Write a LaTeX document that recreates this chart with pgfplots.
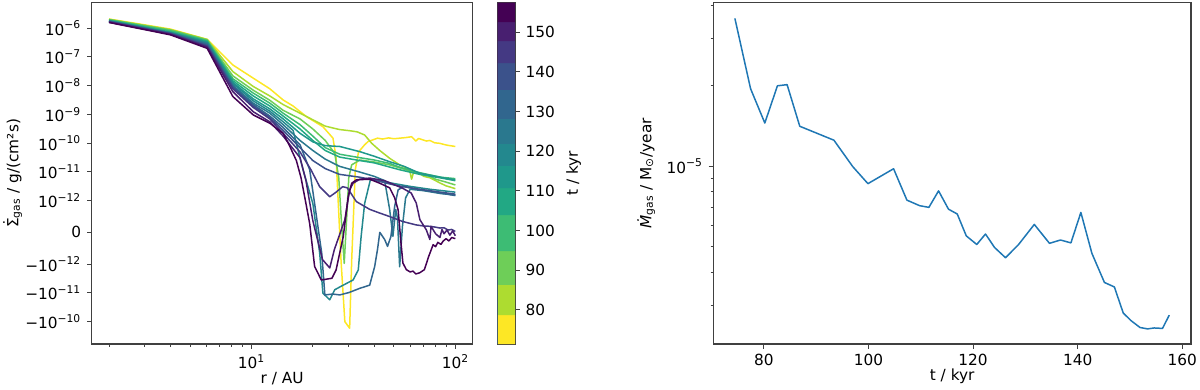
\documentclass[border=0pt]{standalone}
\usepackage{fontspec}
\setmainfont{DejaVu Sans}
\usepackage{pgfplots}
\pgfplotsset{compat=1.18}

% viridis bins, yellow (early) to purple (late)
\definecolor{c0}{HTML}{FDE725}
\definecolor{c1}{HTML}{ADDC30}
\definecolor{c2}{HTML}{6ECE58}
\definecolor{c3}{HTML}{3DBC74}
\definecolor{c4}{HTML}{22A884}
\definecolor{c5}{HTML}{1F988B}
\definecolor{c6}{HTML}{23888E}
\definecolor{c7}{HTML}{2A788E}
\definecolor{c8}{HTML}{31668E}
\definecolor{c9}{HTML}{3B528B}
\definecolor{c10}{HTML}{443983}
\definecolor{c11}{HTML}{481F70}
\definecolor{c12}{HTML}{440154}
\definecolor{mplblue}{HTML}{1F77B4}

\newcommand{\tp}[1]{10\textsuperscript{#1}}
% dot accent placed by hand (combining dot is lost on capital sigma)
\newcommand{\dotover}[1]{\setbox0\hbox{#1}\makebox[0pt][l]{\makebox[\wd0][c]{\raisebox{0.22em}{˙}}}#1}

\pgfplotsset{
  mpl/.style={
    scale only axis,
    axis line style={line width=0.7pt, black!75},
    tick style={black!75, line width=0.6pt},
    tick align=outside,
    major tick length=2.8pt,
    minor tick length=1.6pt,
    xtick pos=bottom, ytick pos=left,
    /pgf/number format/assume math mode=true,
    tick label style={font=\fontsize{9.2}{11}\selectfont},
    label style={font=\fontsize{9.2}{11}\selectfont},
    xlabel style={yshift=5pt},
  },
  ln/.style={line width=0.9pt, line join=round},
}

\begin{document}
\begin{tikzpicture}[font=\fontsize{9.2}{11}\selectfont]
\useasboundingbox (-55pt,-27pt) rectangle (665pt,206.4pt);

% ---------------- left: symlog profiles (linthresh 1e-12) ----------------
\begin{axis}[mpl, at={(0pt,0pt)}, anchor=south west,
    width=228.6pt, height=204.8pt,
    xmode=log, xmin=1.644, xmax=121.6,
    ymin=-3.89, ymax=8.0,
    xtick={10,100}, xticklabels={\tp{1},\tp{2}},
    minor xtick={2,3,4,5,6,7,8,9,20,30,40,50,60,70,80,90},
    ytick={7.111,6.111,5.111,4.111,3.111,2.111,1.111,0,-1.111,-2.111,-3.111},
    yticklabels={\tp{−6},\tp{−7},\tp{−8},\tp{−9},\tp{−10},\tp{−11},\tp{−12},0,−\tp{−12},−\tp{−11},−\tp{−10}},
    xlabel={r / AU},
    ylabel={\dotover{Σ}\textsubscript{gas} / g/(cm²s)},
    ylabel shift=-5pt,
]
\addplot[ln, c0] coordinates {(2,7.43) (4,7.08) (6.06,6.72) (8.1,5.83) (10.2,5.37) (12.3,5.0) (14.3,4.61) (16,4.40) (18.6,4.03) (22.4,3.68) (25.1,3.28) (26.0,2.6) (26.6,1.13) (27.5,-1.0) (28.7,-3.11) (30.3,-3.34) (31.0,-1.0) (32.3,2.18) (33.5,2.8) (35.9,3.05) (37.3,3.16) (41.5,3.28) (44,3.25) (47,3.29) (50,3.26) (53.3,3.28) (57,3.30) (61,3.33) (64,3.18) (66,3.27) (68,3.24) (72,3.18) (75,3.20) (79,3.12) (84,3.10) (88,3.06) (92,3.03) (96,3.01) (100,2.99)};
\addplot[ln, c1] coordinates {(2,7.42) (4,7.06) (6.06,6.72) (8.1,5.60) (10.2,5.08) (12.3,4.75) (14.3,4.45) (17.3,4.15) (20,3.92) (23,3.70) (25.6,3.62) (27.1,3.58) (30.3,3.54) (33,3.50) (35.9,3.39) (38.9,3.10) (42.6,2.85) (47.6,2.58) (53.3,2.35) (57,2.25) (59.7,2.15) (61,1.85) (62.5,2.12) (66.8,2.05) (70,1.95) (75,1.90) (80,1.80) (84,1.72) (90,1.62) (95,1.57) (100,1.52)};
\addplot[ln, c2] coordinates {(2,7.41) (4,7.05) (6.06,6.70) (8.1,5.45) (10.2,4.95) (12.3,4.6) (14.3,4.25) (17.3,3.95) (20,3.60) (23,3.20) (25.6,2.75) (26.8,1.9) (27.6,0.4) (28.5,-1.08) (29.2,0.3) (30,1.9) (31,2.35) (34,2.52) (40,2.45) (47.6,2.35) (56,2.20) (62,2.10) (67,2.05) (75,1.95) (80,1.85) (90,1.75) (100,1.65)};
\addplot[ln, c3] coordinates {(2,7.40) (4,7.02) (6.06,6.68) (8.1,5.35) (10.2,4.85) (12.3,4.5) (14.3,4.15) (17.3,3.75) (20,3.35) (23,2.95) (27.1,2.72) (34,2.60) (40,2.52) (47.6,2.40) (53.3,2.27) (63,2.12) (75,2.0) (85,1.92) (100,1.87)};
\addplot[ln, c4] coordinates {(2,7.38) (4,6.98) (6.06,6.65) (8.1,5.28) (10.2,4.75) (12.3,4.40) (14.3,4.05) (17.3,3.60) (20,3.20) (23,2.85) (27.1,2.62) (34,2.50) (40,2.42) (53.3,2.18) (66.8,2.02) (84,1.90) (100,1.80)};
\addplot[ln, c5] coordinates {(2,7.37) (4,6.95) (6.06,6.62) (8.1,5.22) (10.2,4.65) (12.3,4.30) (14.3,3.95) (17.3,3.45) (20,3.15) (23,3.02) (27.1,2.99) (34,2.81) (40,2.65) (47.6,2.46) (56,2.30) (66.8,2.06) (80,1.95) (90,1.88) (100,1.83)};
\addplot[ln, c6] coordinates {(2,7.36) (4,6.95) (6.06,6.60) (8.1,5.18) (10.2,4.58) (12.3,4.22) (14.3,3.85) (16,3.55) (17.9,2.18) (20,1.0) (21.6,-0.72) (22.4,-2.12) (24.2,-2.35) (25.6,-2.0) (28,-1.85) (31.5,-1.66) (33.4,-1.31) (34.5,-0.14) (35.9,1.01) (38.3,1.83) (42,1.80) (50,1.70) (60,1.60) (75,1.50) (100,1.40)};
\addplot[ln, c7] coordinates {(2,7.35) (4,6.95) (6.06,6.57) (8.1,5.12) (10.2,4.50) (12.3,4.15) (14.3,3.75) (17.3,3.20) (20,2.85) (23,2.55) (27,2.30) (34,2.10) (40,1.95) (45,1.80) (47.6,0.8) (49.4,-0.14) (51,0.8) (52,0.5) (53.3,-1.2) (55,0.2) (57,1.2) (60,1.5) (70,1.45) (85,1.35) (100,1.30)};
\addplot[ln, c8] coordinates {(2,7.35) (4,6.93) (6.06,6.54) (8.1,5.08) (10.2,4.45) (12.3,4.05) (14.3,3.65) (17.3,3.05) (19.3,2.18) (20.4,1.0) (22.1,-0.72) (22.9,-2.18) (25,-2.15) (27.1,-2.18) (30,-2.10) (34,-1.95) (38,-1.84) (40.2,-1.19) (41.5,-0.6) (42.6,0.0) (45,-0.25) (46.5,-0.49) (48.3,-0.14) (50.4,0.91) (52.4,1.48) (56,1.60) (65,1.50) (80,1.40) (100,1.28)};
\addplot[ln, c9] coordinates {(2,7.34) (4,6.92) (6.06,6.50) (8.1,5.05) (10.2,4.40) (12.3,4.00) (14.3,3.55) (17.3,2.95) (20,2.50) (23,2.22) (27,2.02) (34,1.92) (40,1.82) (50,1.65) (60,1.55) (75,1.45) (100,1.33)};
\addplot[ln, c10] coordinates {(2,7.33) (4,6.92) (6.06,6.48) (8.1,5.00) (10.2,4.35) (12.3,3.95) (14.3,3.45) (17.3,2.80) (19.5,2.2) (21.6,1.59) (24.2,1.24) (26,1.40) (28,1.59) (29.5,1.55) (32.7,1.07) (38,0.80) (42.6,0.67) (47.6,0.55) (55,0.38) (64,0.26) (70,0.22) (75,0.21) (80,0.18) (84,0.15) (88,0.16) (92,0.08) (96,0.10) (100,0.03)};
\addplot[ln, c11] coordinates {(2,7.32) (4,6.90) (6.06,6.45) (8.1,4.90) (10.2,4.20) (12.3,3.85) (14.3,3.35) (17.3,2.60) (18.5,1.8) (20,0.4) (22.3,-0.95) (24.2,-1.24) (25.5,-0.6) (28.7,0.44) (30.3,1.48) (31.5,1.71) (34,1.85) (38,1.89) (45,1.80) (55,1.54) (60.7,1.37) (64.3,1.02) (67,0.44) (72,0.09) (75,-0.25) (76,0.21) (80,-0.05) (84,-0.18) (86,0.1) (88,-0.05) (91,0.08) (94,-0.1) (97,0.05) (100,-0.12)};
\addplot[ln, c12] coordinates {(2,7.31) (4,6.88) (6.06,6.41) (8.1,4.73) (10.2,4.09) (12.3,3.80) (14.3,3.45) (15.4,3.0) (16.6,2.5) (17.5,1.9) (18.5,1.0) (19.3,0.3) (20.4,-1.19) (22,-1.66) (24.8,-1.60) (26,-1.31) (28.2,-0.14) (29.8,1.24) (31,1.71) (32.7,1.83) (38,1.85) (42.6,1.71) (47.6,1.55) (50.4,1.2) (52.4,0.78) (54,-0.3) (55.3,-1.07) (57.5,-1.30) (60,-1.38) (62,-1.35) (64,-1.45) (66.8,-1.41) (70.5,-1.30) (74,-0.84) (77.8,-0.43) (80,-0.5) (82,-0.35) (85,-0.42) (87,-0.31) (90,-0.22) (93,-0.30) (96,-0.18) (100,-0.22)};
\end{axis}

% ---------------- colorbar ----------------
\begin{axis}[mpl, at={(243.6pt,0pt)}, anchor=south west,
    width=10.4pt, height=204.8pt,
    xmin=0, xmax=1, ymin=71.4, ymax=157.4,
    xtick=\empty,
    ytick={80,90,100,110,120,130,140,150},
    ytick pos=right, yticklabel pos=right,
    ylabel={t / kyr},
]
\addplot[fill=c0, draw=none] coordinates {(0,71.4) (1,71.4) (1,78.7) (0,78.7)} \closedcycle;
\addplot[fill=c1, draw=none] coordinates {(0,78.7) (1,78.7) (1,86.3) (0,86.3)} \closedcycle;
\addplot[fill=c2, draw=none] coordinates {(0,86.3) (1,86.3) (1,94.8) (0,94.8)} \closedcycle;
\addplot[fill=c3, draw=none] coordinates {(0,94.8) (1,94.8) (1,103.9) (0,103.9)} \closedcycle;
\addplot[fill=c4, draw=none] coordinates {(0,103.9) (1,103.9) (1,110.7) (0,110.7)} \closedcycle;
\addplot[fill=c5, draw=none] coordinates {(0,110.7) (1,110.7) (1,116.3) (0,116.3)} \closedcycle;
\addplot[fill=c6, draw=none] coordinates {(0,116.3) (1,116.3) (1,121.8) (0,121.8)} \closedcycle;
\addplot[fill=c7, draw=none] coordinates {(0,121.8) (1,121.8) (1,128.1) (0,128.1)} \closedcycle;
\addplot[fill=c8, draw=none] coordinates {(0,128.1) (1,128.1) (1,135.4) (0,135.4)} \closedcycle;
\addplot[fill=c9, draw=none] coordinates {(0,135.4) (1,135.4) (1,142.2) (0,142.2)} \closedcycle;
\addplot[fill=c10, draw=none] coordinates {(0,142.2) (1,142.2) (1,147.7) (0,147.7)} \closedcycle;
\addplot[fill=c11, draw=none] coordinates {(0,147.7) (1,147.7) (1,152.5) (0,152.5)} \closedcycle;
\addplot[fill=c12, draw=none] coordinates {(0,152.5) (1,152.5) (1,157.4) (0,157.4)} \closedcycle;
\end{axis}

% ---------------- right: accretion rate ----------------
\begin{axis}[mpl, at={(373pt,0pt)}, anchor=south west,
    width=286.6pt, height=204.8pt,
    xmin=70.35, xmax=161.65,
    ymode=log, ymin=2.15e-6, ymax=4.10e-5,
    xtick={80,100,120,140,160},
    xticklabels={80,100,120,140,160},
    ytick={1e-5}, yticklabels={\tp{−5}},
    minor ytick={3e-6,4e-6,5e-6,6e-6,7e-6,8e-6,9e-6,2e-5,3e-5,4e-5},
    xlabel={t / kyr},
    ylabel={\textit{\.{M}}\textsubscript{gas} / M\textsubscript{⊙}/year},
]
\addplot[ln, mplblue] coordinates {
(74.47,3.58e-5) (77.47,1.95e-5) (80.19,1.45e-5) (82.6,2.00e-5) (84.45,2.02e-5)
(86.87,1.41e-5) (93.4,1.25e-5) (97.0,9.95e-6) (99.9,8.59e-6) (104.8,9.77e-6)
(107.35,7.45e-6) (109.8,7.10e-6) (111.55,7.00e-6) (113.4,8.07e-6) (115.3,6.89e-6)
(116.97,6.61e-6) (118.7,5.47e-6) (120.7,5.08e-6) (122.37,5.56e-6) (124.1,4.95e-6)
(126.2,4.53e-6) (128.7,5.08e-6) (131.7,6.04e-6) (134.6,5.13e-6) (136.7,5.28e-6)
(138.7,5.15e-6) (140.6,6.70e-6) (142.7,4.71e-6) (145.1,3.66e-6) (147.0,3.52e-6)
(148.7,2.81e-6) (150.2,2.63e-6) (151.9,2.48e-6) (153.35,2.45e-6) (154.6,2.47e-6)
(156.2,2.46e-6) (157.5,2.76e-6)};
\end{axis}
\end{tikzpicture}
\end{document}
